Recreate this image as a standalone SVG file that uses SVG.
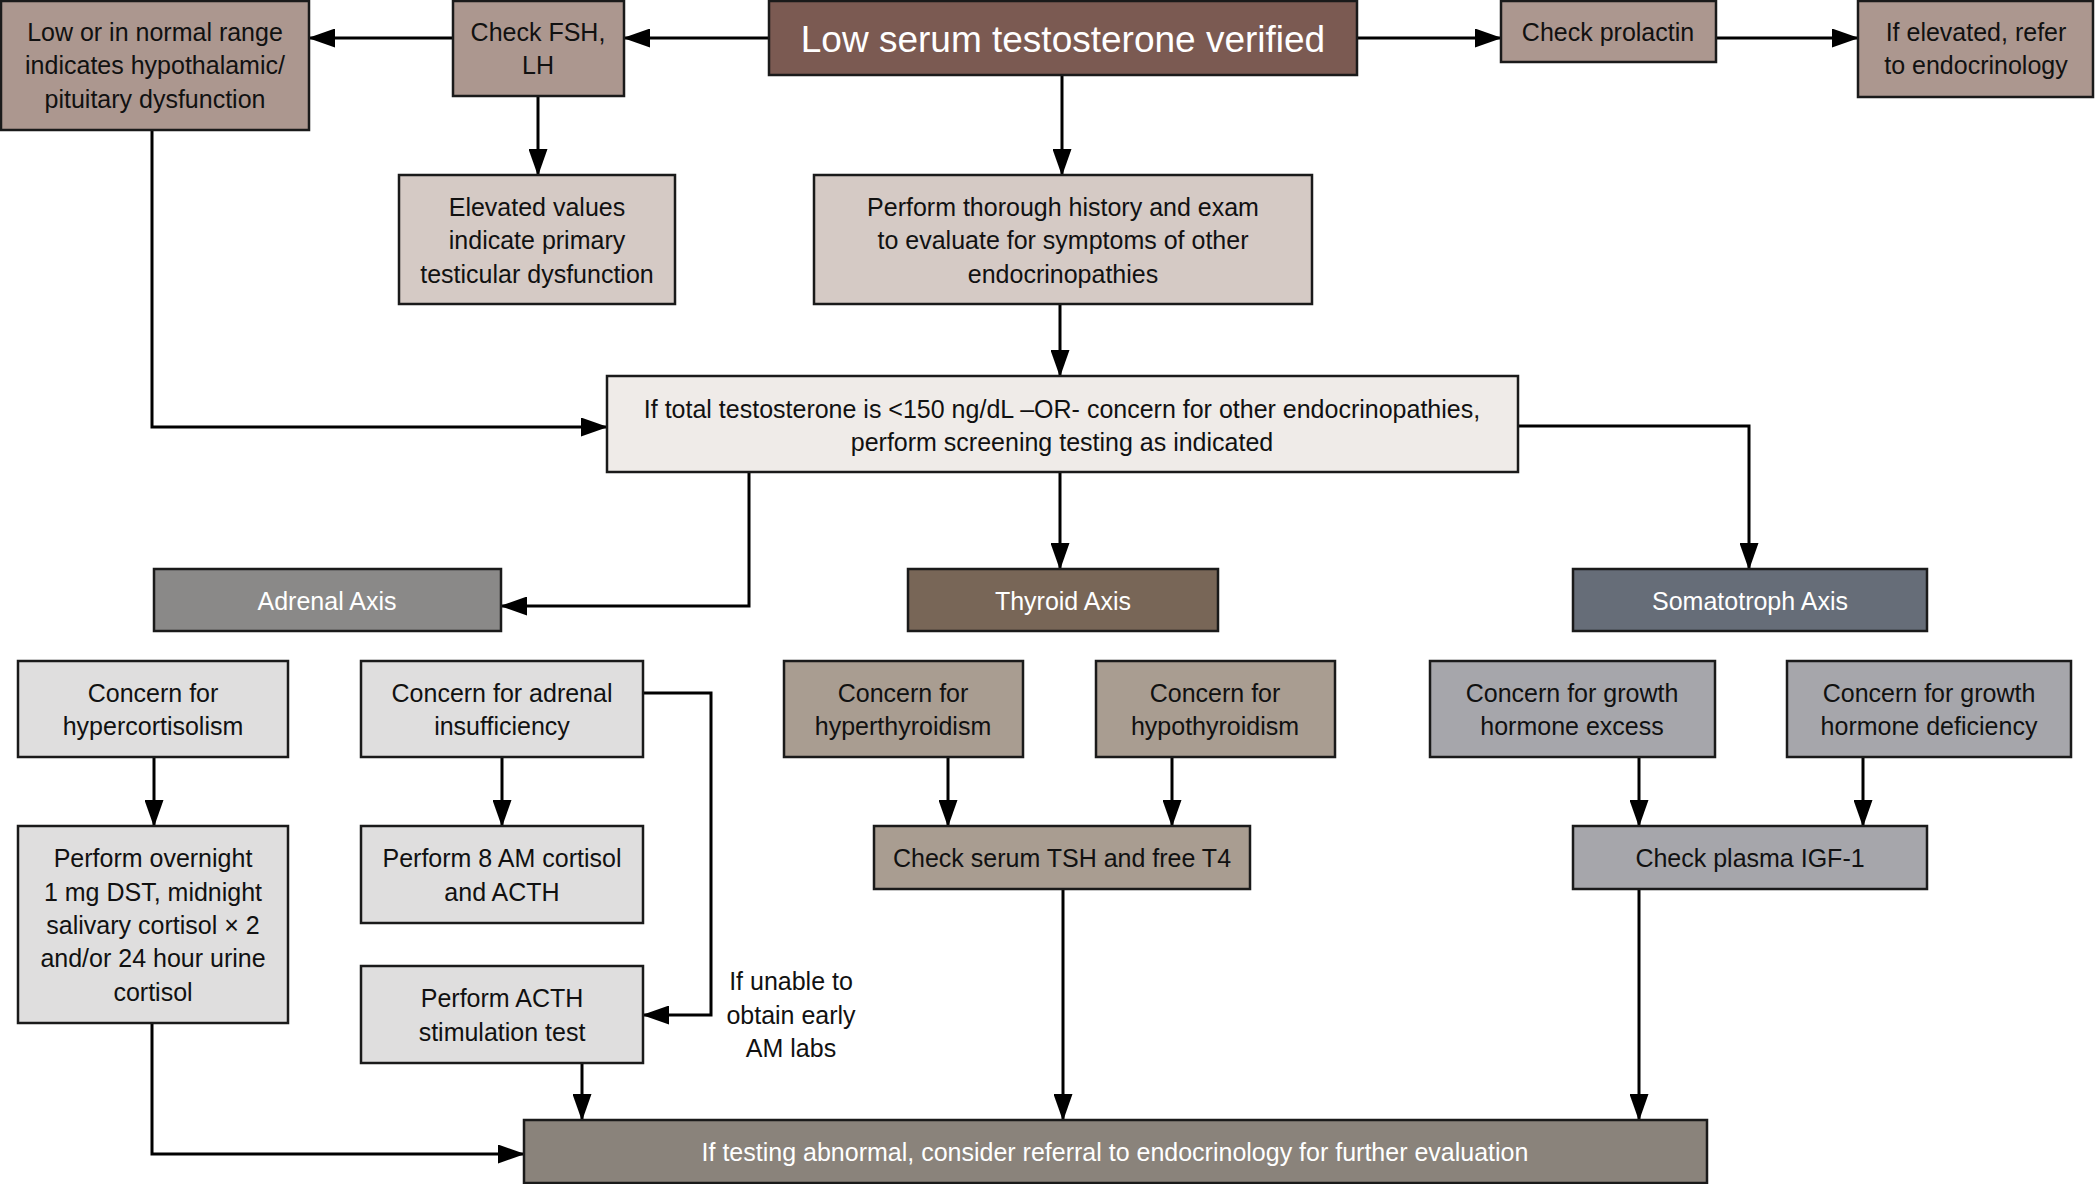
<svg xmlns="http://www.w3.org/2000/svg" width="2096" height="1184" viewBox="0 0 2096 1184">
<defs>
<marker id="ah" markerUnits="userSpaceOnUse" markerWidth="27" markerHeight="19" refX="26" refY="9.5" orient="auto">
<path d="M0,0 L27,9.5 L0,19 z" fill="#000"/>
</marker>
<style>
rect{stroke:#1a1a1a;stroke-width:2.5}
text{font-family:"Liberation Sans",Arial,sans-serif;font-size:25px;text-anchor:middle;fill:#111}
.w{fill:#fff}
.mauve{fill:#ac978f}
.dark{fill:#7b5a52}
.tan{fill:#d5cac5}
.pale{fill:#efebe8}
.adr{fill:#8a8988}
.thy{fill:#786657}
.som{fill:#666d78}
.adrl{fill:#dfdede}
.thyl{fill:#a99d91}
.soml{fill:#a6a6ab}
.fin{fill:#8a837b}
#connectors path{fill:none;stroke:#000;stroke-width:3;marker-end:url(#ah)}
</style>
</defs>
<rect width="2096" height="1184" fill="#fff" style="stroke:none"/>

<g id="connectors">
<path d="M769,38 H624"/>
<path d="M453,38 H309"/>
<path d="M1357,38 H1501"/>
<path d="M1716,38 H1858"/>
<path d="M538,96 V175"/>
<path d="M1062,75 V175"/>
<path d="M152,130 V427 H607"/>
<path d="M1060,304 V376"/>
<path d="M749,472 V606 H501"/>
<path d="M1060,472 V569"/>
<path d="M1518,426 H1749 V569"/>
<path d="M154,757 V826"/>
<path d="M502,757 V826"/>
<path d="M643,693 H711 V1015 H643"/>
<path d="M948,757 V826"/>
<path d="M1172,757 V826"/>
<path d="M1639,757 V826"/>
<path d="M1863,757 V826"/>
<path d="M152,1023 V1154 H524"/>
<path d="M582,1063 V1120"/>
<path d="M1063,889 V1120"/>
<path d="M1639,889 V1120"/>
</g>

<g id="n_lownormal"><rect class="mauve" x="1" y="1" width="308" height="129"/>
<text x="155" y="41">Low or in normal range</text><text x="155" y="74">indicates hypothalamic/</text><text x="155" y="108">pituitary dysfunction</text></g>

<g id="n_fshlh"><rect class="mauve" x="453" y="1" width="171" height="95"/>
<text x="538" y="41">Check FSH,</text><text x="538" y="74">LH</text></g>

<g id="n_start"><rect class="dark" x="769" y="1" width="588" height="74"/>
<text class="w" x="1063" y="52" style="font-size:37px">Low serum testosterone verified</text></g>

<g id="n_prolactin"><rect class="mauve" x="1501" y="1" width="215" height="61"/>
<text x="1608" y="41">Check prolactin</text></g>

<g id="n_refer1"><rect class="mauve" x="1858" y="1" width="235" height="96"/>
<text x="1976" y="41">If elevated, refer</text><text x="1976" y="74">to endocrinology</text></g>

<g id="n_elevated"><rect class="tan" x="399" y="175" width="276" height="129"/>
<text x="537" y="216">Elevated values</text><text x="537" y="249">indicate primary</text><text x="537" y="283">testicular dysfunction</text></g>

<g id="n_history"><rect class="tan" x="814" y="175" width="498" height="129"/>
<text x="1063" y="216">Perform thorough history and exam</text><text x="1063" y="249">to evaluate for symptoms of other</text><text x="1063" y="283">endocrinopathies</text></g>

<g id="n_screen"><rect class="pale" x="607" y="376" width="911" height="96"/>
<text x="1062" y="418">If total testosterone is &lt;150 ng/dL –OR- concern for other endocrinopathies,</text><text x="1062" y="451">perform screening testing as indicated</text></g>

<g id="n_adrenal"><rect class="adr" x="154" y="569" width="347" height="62"/>
<text class="w" x="327" y="610">Adrenal Axis</text></g>

<g id="n_thyroid"><rect class="thy" x="908" y="569" width="310" height="62"/>
<text class="w" x="1063" y="610">Thyroid Axis</text></g>

<g id="n_somato"><rect class="som" x="1573" y="569" width="354" height="62"/>
<text class="w" x="1750" y="610">Somatotroph Axis</text></g>

<g id="n_hypercort"><rect class="adrl" x="18" y="661" width="270" height="96"/>
<text x="153" y="702">Concern for</text><text x="153" y="735">hypercortisolism</text></g>

<g id="n_insuff"><rect class="adrl" x="361" y="661" width="282" height="96"/>
<text x="502" y="702">Concern for adrenal</text><text x="502" y="735">insufficiency</text></g>

<g id="n_hyperthy"><rect class="thyl" x="784" y="661" width="239" height="96"/>
<text x="903" y="702">Concern for</text><text x="903" y="735">hyperthyroidism</text></g>

<g id="n_hypothy"><rect class="thyl" x="1096" y="661" width="239" height="96"/>
<text x="1215" y="702">Concern for</text><text x="1215" y="735">hypothyroidism</text></g>

<g id="n_ghexcess"><rect class="soml" x="1430" y="661" width="285" height="96"/>
<text x="1572" y="702">Concern for growth</text><text x="1572" y="735">hormone excess</text></g>

<g id="n_ghdef"><rect class="soml" x="1787" y="661" width="284" height="96"/>
<text x="1929" y="702">Concern for growth</text><text x="1929" y="735">hormone deficiency</text></g>

<g id="n_overnight"><rect class="adrl" x="18" y="826" width="270" height="197"/>
<text x="153" y="867">Perform overnight</text><text x="153" y="901">1 mg DST, midnight</text><text x="153" y="934">salivary cortisol × 2</text><text x="153" y="967">and/or 24 hour urine</text><text x="153" y="1001">cortisol</text></g>

<g id="n_8am"><rect class="adrl" x="361" y="826" width="282" height="97"/>
<text x="502" y="867">Perform 8 AM cortisol</text><text x="502" y="901">and ACTH</text></g>

<g id="n_acthstim"><rect class="adrl" x="361" y="966" width="282" height="97"/>
<text x="502" y="1007">Perform ACTH</text><text x="502" y="1041">stimulation test</text></g>

<g id="l_unable"><text x="791" y="990">If unable to</text><text x="791" y="1024">obtain early</text><text x="791" y="1057">AM labs</text></g>

<g id="n_tsh"><rect class="thyl" x="874" y="826" width="376" height="63"/>
<text x="1062" y="867">Check serum TSH and free T4</text></g>

<g id="n_igf"><rect class="soml" x="1573" y="826" width="354" height="63"/>
<text x="1750" y="867">Check plasma IGF-1</text></g>

<g id="n_final"><rect class="fin" x="524" y="1120" width="1183" height="63"/>
<text class="w" x="1115" y="1161">If testing abnormal, consider referral to endocrinology for further evaluation</text></g>
</svg>
